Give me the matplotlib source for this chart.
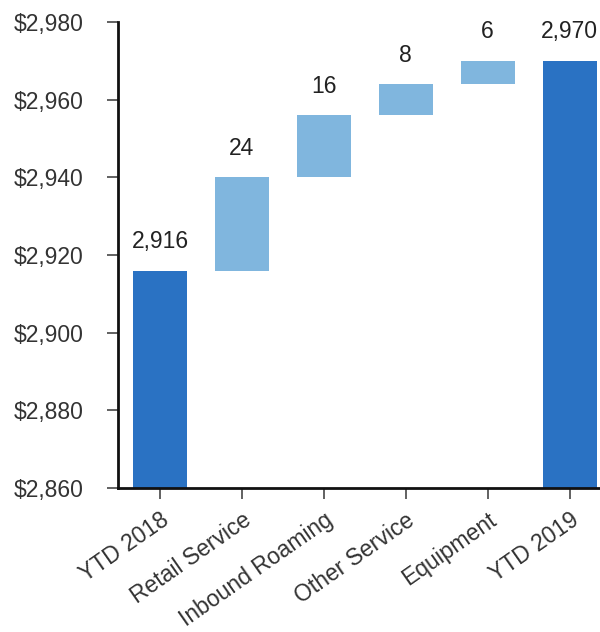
import matplotlib
matplotlib.use("Agg")
import matplotlib.pyplot as plt
import numpy as np

categories = ["YTD 2018", "Retail Service", "Inbound Roaming", "Other Service", "Equipment", "YTD 2019"]
start_total = 2916
increments = [24, 16, 8, 6]
end_total = 2970
y_ticks = [2860, 2880, 2900, 2920, 2940, 2960, 2980]

plt.rcParams["font.family"] = ["Liberation Sans", "DejaVu Sans"]

dark = "#2A72C3"
light = "#80B6DE"
axis_floor = 2860
fs = 16.5

fig = plt.figure(figsize=(6.0, 6.32), dpi=100)
ax = fig.add_axes([0.197, 0.228, 0.803, 0.737])

x = np.arange(len(categories))
width = 0.66

# totals drawn from the axis floor
ax.bar(x[0], start_total - axis_floor, bottom=axis_floor, width=width, color=dark)
ax.bar(x[-1], end_total - axis_floor, bottom=axis_floor, width=width, color=dark)

# floating increments
bottoms = start_total + np.concatenate([[0], np.cumsum(increments)[:-1]])
ax.bar(x[1:-1], increments, bottom=bottoms, width=width, color=light)

label_kw = dict(ha="center", va="bottom", fontsize=fs, color="#222222")
offset = 4.5
ax.text(x[0], start_total + offset, f"{start_total:,}", **label_kw)
for xi, b, inc in zip(x[1:-1], bottoms, increments):
    ax.text(xi, b + inc + offset, f"{inc}", **label_kw)
ax.text(x[-1], end_total + offset, f"{end_total:,}", **label_kw)

ax.set_ylim(axis_floor, 2980)
ax.set_xlim(-0.51, 5.37)
ax.set_yticks(y_ticks)
ax.set_yticklabels([f"${v:,}" for v in y_ticks], fontsize=fs, color="#333333")
ax.set_xticks(x)
ax.set_xticklabels(categories, rotation=35, ha="right", rotation_mode="anchor",
                   fontsize=fs, color="#333333")

for side in ("top", "right"):
    ax.spines[side].set_visible(False)
for side in ("left", "bottom"):
    ax.spines[side].set_linewidth(2)
    ax.spines[side].set_color("#111111")
ax.tick_params(axis="both", length=8, width=1.3, color="#555555")
ax.tick_params(axis="x", pad=7)
ax.tick_params(axis="y", pad=17)

fig.savefig("out.png", dpi=100)
